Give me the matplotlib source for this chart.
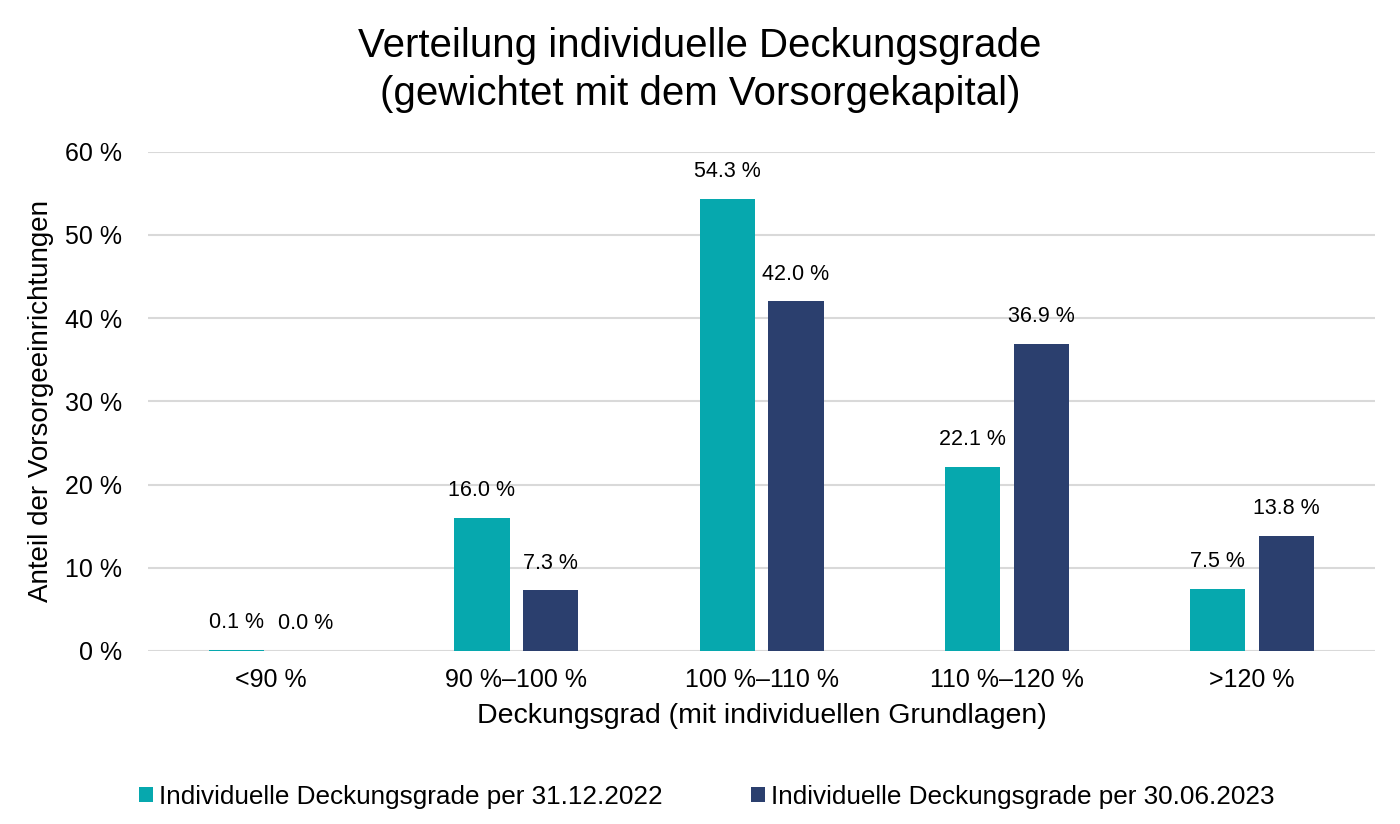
from matplotlib import pyplot as plt
import numpy as np

plt.rcParams['font.family'] = ['Liberation Sans', 'DejaVu Sans']

categories = ['<90 %', '90 %–100 %', '100 %–110 %', '110 %–120 %', '>120 %']
werte_2022 = [0.1, 16.0, 54.3, 22.1, 7.5]
werte_2023 = [0.0, 7.3, 42.0, 36.9, 13.8]
serien = ['Individuelle Deckungsgrade per 31.12.2022',
          'Individuelle Deckungsgrade per 30.06.2023']

teal = '#06a8ae'
navy = '#2b3f6e'

fig = plt.figure(figsize=(14, 8.24), dpi=100)
ax = fig.add_axes([0.106, 0.21, 0.876, 0.606])

x = np.arange(len(categories))
w = 0.225
b1 = ax.bar(x - 0.14, werte_2022, w, color=teal, label=serien[0], zorder=3)
b2 = ax.bar(x + 0.14, werte_2023, w, color=navy, label=serien[1], zorder=3)

for bars, vals in [(b1, werte_2022), (b2, werte_2023)]:
    for b, v in zip(bars, vals):
        ax.annotate(f'{v:.1f} %', (b.get_x() + b.get_width() / 2, v),
                    xytext=(0, 12), textcoords='offset points',
                    ha='center', va='bottom', fontsize=15.5)

ax.set_ylim(0, 60)
ax.set_xlim(-0.5, len(categories) - 0.5)
ax.set_yticks(np.arange(0, 61, 10))
ax.set_yticklabels([f'{t} %' for t in range(0, 61, 10)])
ax.set_xticks(x)
ax.set_xticklabels(categories)
ax.tick_params(length=0, labelsize=18, pad=12)
ax.tick_params(axis='y', pad=19)
ax.grid(axis='y', color='#d9d9d9', lw=1.5, zorder=0)
for s in ax.spines.values():
    s.set_visible(False)

ax.set_xlabel('Deckungsgrad (mit individuellen Grundlagen)', fontsize=20.5, labelpad=8)
ax.set_ylabel('Anteil der Vorsorgeeinrichtungen', fontsize=20, labelpad=8)

fig.suptitle('Verteilung individuelle Deckungsgrade\n(gewichtet mit dem Vorsorgekapital)',
             fontsize=29, y=0.967, linespacing=1.32)

fig.legend(handles=[b1, b2], loc='lower center', bbox_to_anchor=(0.505, -0.01),
           ncol=2, frameon=False, fontsize=18.8, handlelength=0.5, handleheight=0.5,
           handletextpad=0.25, columnspacing=3.4)

plt.savefig('out.png')
